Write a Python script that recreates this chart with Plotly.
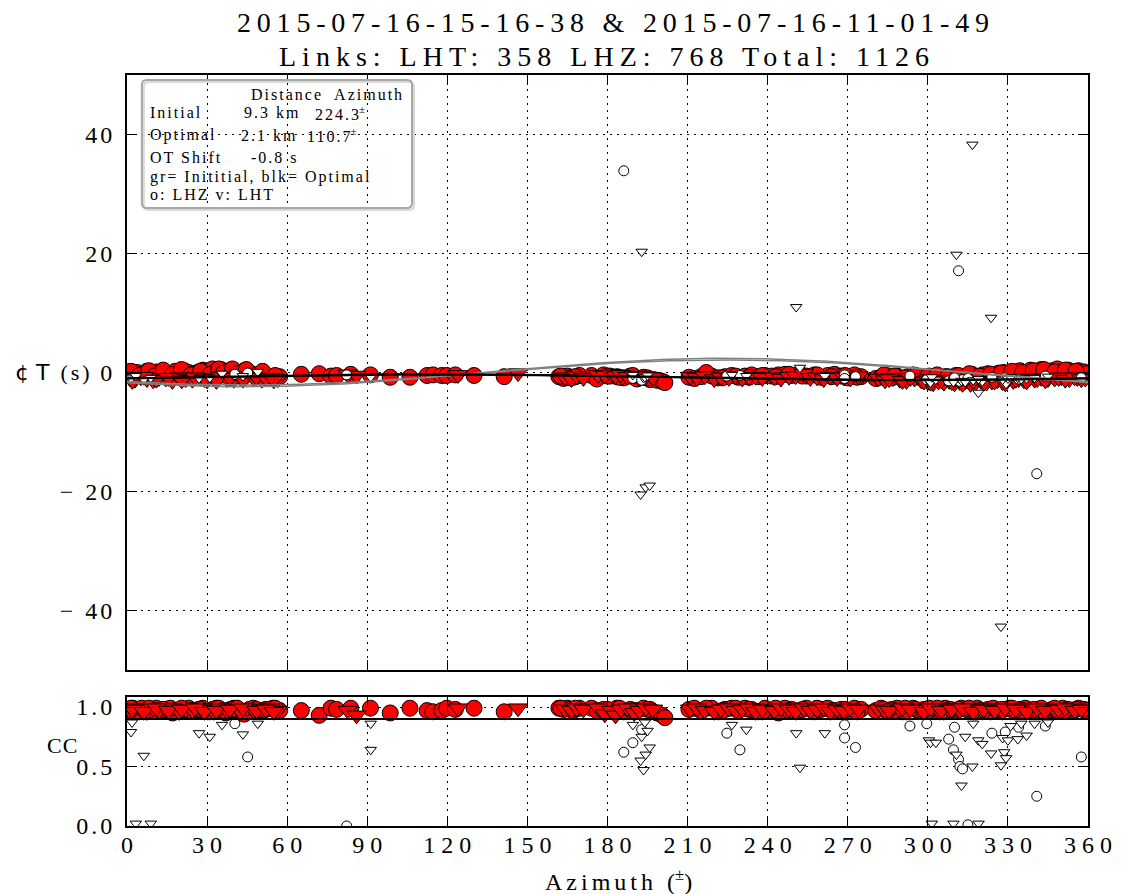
import numpy as np
import plotly.graph_objects as go

# ---- event pair / link summary -------------------------------------------
event_a = "2015-07-16-15-16-38"
event_b = "2015-07-16-11-01-49"
n_lht, n_lhz = 358, 768

# ---- relocation solutions ---------------------------------------------------
init_dist_km, init_az = 9.3, 224.3
opt_dist_km, opt_az = 2.1, 110.7
ot_shift_s = -0.8
vel_lhz, vel_lht = 3.9, 4.4          # km/s, phase velocities for predicted delays
cc_threshold = 0.9

# ---- LHZ links above threshold (circles) -----------------------------------
lhz_good_az = [0.5, 2.2, 3.8, 5.5, 7.4, 9.1, 11.0, 12.8, 14.3, 16.2, 18.0, 19.6, 21.5, 23.1, 25.0, 26.8,
               28.4, 30.3, 32.0, 33.5, 35.2, 37.0, 38.8, 40.1, 42.0, 43.9, 45.8, 47.3, 49.5, 52.0, 54.6, 57.2,
               65.3, 72.0, 76.4, 78.5, 83.8, 91.2, 98.6, 106.0, 112.4, 114.6, 117.9, 119.8, 123.0, 130.0, 141.3,
               161.8, 163.5, 165.0, 167.2, 169.5, 174.0, 178.5, 181.0, 183.5, 186.0, 188.5, 191.0, 193.5, 196.0,
               198.5, 200.5, 201.5,
               210.5, 212.5, 215.0, 219.0, 221.5, 224.0, 226.5, 229.0, 231.5, 234.0, 236.5, 239.0, 241.5, 244.0,
               246.5, 249.0, 252.0, 254.5, 257.5, 260.0, 262.5, 265.0, 267.5, 270.0, 272.5, 275.0,
               280.5, 282.5, 284.5, 286.5, 288.5, 290.5, 292.5, 294.5, 296.5, 298.5, 300.5, 302.5, 304.5, 306.5,
               308.5, 310.5, 312.5, 314.5, 316.5, 318.5, 320.5, 322.5, 324.5, 326.5, 328.5, 330.5, 332.5, 334.5,
               336.5, 338.5, 340.5, 342.5, 344.5, 346.5, 348.5, 350.5, 352.5, 354.5, 356.5, 358.5, 359.5,
               1.5, 4.6, 8.2, 10.3, 13.6, 17.1, 20.4, 24.0, 27.6, 31.2, 34.4, 36.1, 39.5, 41.3, 44.7, 48.4,
               50.8, 55.5,
               283.5, 287.5, 291.5, 295.5, 299.5, 303.5, 307.5, 311.5, 315.5, 319.5, 323.5, 327.5, 331.5,
               335.5, 339.5, 343.5, 347.5, 351.5, 355.5,
               217.0, 223.0, 228.0, 233.0, 238.0, 243.0, 248.0, 253.0, 258.5, 264.0, 269.0, 273.5,
               162.5, 166.0, 168.0, 176.0, 180.0, 184.5, 189.5, 195.0]
lhz_good_dt = [0.1, -0.2, 0.0, -0.3, 0.2, -0.1, 0.1, -0.4, 0.0, -0.2, 0.2, -0.1, 0.3, 0.0, -0.2, 0.1,
               0.4, 0.2, 0.6, 0.3, 0.5, 0.1, 0.4, 0.2, -0.1, 0.3, 0.0, -0.3, -0.6, -0.8, -0.9, -0.7,
               -0.3, -0.2, -0.6, -0.5, -0.3, -0.4, -0.8, -0.8, -0.5, -0.4, -0.5, -0.5, -0.4, -0.5, -0.7,
               -0.7, -1.0, -0.6, -0.8, -0.5, -0.5, -0.4, -0.6, -0.7, -0.9, -0.6, -1.1, -0.8, -1.2,
               -1.3, -1.5, -1.7,
               -0.8, -1.0, -0.7, -0.6, -0.9, -0.7, -0.5, -0.8, -0.6, -0.4, -0.7, -0.5, -0.6, -0.4,
               -0.3, -0.5, -0.2, -0.6, -0.4, -0.8, -0.5, -0.3, -0.6, -0.9, -0.4, -0.7, -1.0,
               -0.8, -0.5, -0.9, -0.6, -1.0, -0.7, -0.4, -0.8, -1.1, -0.6, -0.9, -1.2, -0.7, -1.0,
               -0.5, -0.8, -0.6, -0.3, -0.9, -0.4, -0.2, -0.6, -0.1, 0.0, -0.4, 0.1, 0.3, 0.0,
               0.4, 0.2, 0.5, 0.1, 0.3, 0.6, 0.2, 0.4, 0.0, 0.3, 0.1, -0.2, 0.2,
               -0.5, 0.3, -0.6, 0.4, -0.3, 0.5, -0.4, 0.2, -0.3, 0.6, -0.1, 0.6, -0.2, 0.5, -0.4, 0.2,
               -0.5, -0.4,
               -0.6, -0.9, -0.5, -0.8, -0.4, -0.7, -0.5, -0.2, -0.6, -0.3, -0.1, 0.2, 0.0,
               0.3, 0.5, 0.1, 0.4, 0.2, 0.0,
               -0.9, -0.6, -0.8, -0.5, -0.7, -0.3, -0.6, -0.4, -0.7, -0.5, -0.8, -0.6,
               -0.9, -0.7, -1.1, -0.6, -0.8, -0.5, -0.9, -1.1]
lhz_good_cc = [0.98, 0.99, 0.97, 0.99, 0.96, 0.98, 0.99, 0.97, 0.98, 0.99, 0.97, 0.96, 0.98, 0.99, 0.97, 0.98,
               0.99, 0.96, 0.98, 0.99, 0.97, 0.95, 0.98, 0.99, 0.97, 0.94, 0.98, 0.99, 0.97, 0.98, 0.99, 0.97,
               0.97, 0.93, 0.99, 0.98, 0.99, 0.99, 0.95, 0.99, 0.97, 0.96, 0.97, 0.99, 0.98, 0.99, 0.96,
               0.99, 0.98, 0.99, 0.97, 0.99, 0.99, 0.98, 0.97, 0.99, 0.96, 0.98, 0.97, 0.99, 0.98,
               0.95, 0.93, 0.91,
               0.98, 0.99, 0.97, 0.99, 0.96, 0.98, 0.99, 0.97, 0.99, 0.98, 0.96, 0.99, 0.97, 0.95,
               0.99, 0.98, 0.97, 0.99, 0.96, 0.98, 0.99, 0.97, 0.98, 0.96, 0.99, 0.98, 0.97,
               0.99, 0.97, 0.98, 0.99, 0.96, 0.98, 0.99, 0.97, 0.98, 0.99, 0.97, 0.96, 0.99, 0.98,
               0.97, 0.99, 0.98, 0.97, 0.99, 0.96, 0.98, 0.99, 0.97, 0.98, 0.99, 0.96, 0.98, 0.99,
               0.97, 0.98, 0.99, 0.96, 0.98, 0.97, 0.99, 0.98, 0.97, 0.99, 0.98, 0.97, 0.99,
               0.96, 0.99, 0.97, 0.98, 0.95, 0.99, 0.97, 0.98, 0.96, 0.99, 0.97, 0.98, 0.99, 0.96, 0.98, 0.97,
               0.99, 0.98,
               0.97, 0.99, 0.98, 0.96, 0.99, 0.97, 0.98, 0.99, 0.97, 0.96, 0.98, 0.99, 0.97,
               0.98, 0.96, 0.99, 0.97, 0.98, 0.99,
               0.97, 0.99, 0.98, 0.96, 0.99, 0.97, 0.98, 0.99, 0.97, 0.98, 0.96, 0.99,
               0.98, 0.99, 0.97, 0.98, 0.99, 0.97, 0.98, 0.96]

# ---- LHT links above threshold (down triangles) ----------------------------
lht_good_az = [1.0, 3.0, 5.2, 7.5, 9.8, 12.0, 14.5, 17.0, 19.5, 22.0, 24.5, 27.5, 30.0, 32.5, 35.0, 37.5,
               40.0, 42.5, 45.0, 47.5, 50.5, 53.5, 56.5,
               82.7, 86.0, 124.0, 146.5,
               164.0, 166.5, 168.5, 171.0, 176.5, 179.0, 181.5, 183.0, 185.0, 187.5, 190.0, 192.0, 194.5, 197.0,
               211.0, 213.5, 216.5, 220.0, 222.5, 225.5, 228.0, 230.5, 233.0, 235.5, 238.0, 242.5, 245.0, 248.0,
               250.5, 253.5, 256.0, 258.5, 261.0, 263.5, 266.0, 268.5, 271.0, 274.0,
               281.5, 284.0, 287.0, 289.5, 292.0, 295.0, 297.5, 300.0, 302.0, 304.0, 306.0, 308.0, 310.0, 312.0,
               314.0, 316.0, 318.0, 320.0, 322.0, 324.0, 326.0, 328.0, 330.0, 332.0, 334.0, 336.0, 338.0, 340.0,
               342.5, 345.0, 347.5, 350.0, 353.0, 356.0, 359.0,
               2.0, 6.3, 11.0, 15.5, 20.5, 25.5, 29.0, 33.5, 38.5, 43.5, 48.5, 52.0, 55.0,
               285.5, 290.5, 293.5, 298.5, 301.0, 305.0, 309.0, 313.0, 317.0, 321.0, 325.0, 329.0, 333.0,
               337.0, 341.0, 344.0, 349.0, 351.5, 355.0, 357.5]
lht_good_dt = [-0.9, -1.2, -0.8, -1.1, -1.3, -0.9, -1.0, -1.4, -0.8, -1.1, -1.2, -0.9, -1.3, -1.0, -0.7, -1.1,
               -1.2, -0.9, -0.6, -1.0, -1.2, -0.9, -1.1,
               -0.3, -0.5, -0.4, -0.1,
               -0.8, -1.1, -0.6, -0.9, -0.4, -0.5, -0.3, -0.6, -0.4, -0.7, -0.5, -0.9, -0.6, -0.8,
               -0.7, -0.9, -0.6, -1.1, -0.8, -0.9, -0.6, -1.0, -0.8, -0.7, -0.9, -0.8, -1.0, -0.7,
               -0.6, -0.2, -0.9, -0.8, -1.1, -0.7, -0.9, -0.8, -1.0, -0.6,
               -1.0, -1.3, -0.9, -1.2, -1.4, -1.0, -1.3, -1.6, -1.8, -1.5, -1.7, -1.4, -1.8, -1.6,
               -1.5, -1.9, -1.6, -1.4, -1.7, -1.5, -1.3, -1.6, -1.2, -1.4, -1.1, -1.3, -1.0, -1.2,
               -0.9, -1.1, -1.0, -0.8, -1.1, -0.9, -1.0,
               -1.4, -0.7, -1.2, -0.9, -1.3, -0.8, -1.1, -1.4, -0.9, -1.2, -0.8, -1.0, -1.3,
               -1.1, -1.4, -0.9, -1.5, -1.7, -1.3, -1.6, -1.9, -1.4, -1.7, -1.5, -1.8, -1.2,
               -1.5, -1.1, -1.3, -0.9, -1.2, -0.8, -1.1]
lht_good_cc = [0.97, 0.99, 0.98, 0.96, 0.99, 0.97, 0.98, 0.99, 0.96, 0.98, 0.97, 0.99, 0.98, 0.96, 0.99, 0.97,
               0.98, 0.96, 0.99, 0.97, 0.98, 0.99, 0.97,
               0.97, 0.93, 0.99, 0.99,
               0.98, 0.97, 0.99, 0.98, 0.99, 0.94, 0.97, 0.93, 0.98, 0.99, 0.95, 0.97, 0.99, 0.98,
               0.98, 0.99, 0.97, 0.96, 0.98, 0.99, 0.97, 0.98, 0.99, 0.96, 0.98, 0.97, 0.99, 0.98,
               0.96, 0.99, 0.97, 0.98, 0.99, 0.96, 0.98, 0.97, 0.99, 0.98,
               0.98, 0.97, 0.99, 0.98, 0.96, 0.99, 0.97, 0.98, 0.99, 0.97, 0.96, 0.98, 0.99, 0.97,
               0.98, 0.99, 0.96, 0.98, 0.97, 0.99, 0.98, 0.96, 0.99, 0.97, 0.98, 0.99, 0.97, 0.98,
               0.96, 0.99, 0.98, 0.97, 0.99, 0.98, 0.97,
               0.98, 0.96, 0.99, 0.97, 0.98, 0.99, 0.96, 0.97, 0.98, 0.99, 0.97, 0.98, 0.96,
               0.97, 0.99, 0.98, 0.96, 0.99, 0.97, 0.98, 0.99, 0.96, 0.98, 0.97, 0.99, 0.98,
               0.96, 0.99, 0.97, 0.98, 0.99, 0.97, 0.98]

# ---- LHZ links below threshold (open circles) ------------------------------
lhz_bad_az = [40.4, 45.2, 82.3, 186.1, 189.5, 192.8, 224.7, 229.6, 268.8, 268.8, 272.9, 293.3, 299.6,
              307.8, 309.6, 311.5, 312.0, 313.0, 310.0, 315.0, 324.0, 329.0, 334.0, 340.8, 344.0, 357.5]
lhz_bad_dt = [-0.3, -0.1, -0.4, 33.9, -1.0, -1.3, -0.6, -0.5, -0.4, -1.0, -0.7, -0.6, -1.2,
              -1.4, -1.0, 17.1, -1.5, -1.2, -0.9, -1.0, -0.8, -0.9, -1.1, -17.0, -0.6, -0.9]
lhz_bad_cc = [0.86, 0.58, 0.0, 0.62, 0.70, 0.81, 0.78, 0.64, 0.85, 0.74, 0.66, 0.84, 0.86,
              0.73, 0.64, 0.56, 0.50, 0.48, 0.83, 0.01, 0.78, 0.79, 0.83, 0.25, 0.84, 0.58]

# ---- LHT links below threshold (open down triangles) -----------------------
lht_bad_az = [1.9, 1.5, 6.3, 3.3, 8.9, 27.0, 31.0, 35.6, 43.4, 49.0, 91.3, 91.3,
              189.5, 192.4, 194.3, 195.8, 192.8, 193.5, 194.0, 195.0, 226.6, 232.0,
              250.7, 252.1, 261.4, 300.4, 301.0, 303.0, 310.7, 312.6, 314.0, 316.7, 317.0, 318.9,
              320.4, 323.7, 327.4, 328.6, 329.3, 328.0, 330.0, 333.7, 337.0, 331.0, 335.0, 340.0, 345.0,
              301.5, 309.6, 319.0]
lht_bad_dt = [-0.8, -1.0, -1.2, -0.6, -0.9, -1.0, -0.9, -0.2, -0.6, 0.1, -0.6, -0.8,
              -0.4, -20.5, -19.3, -19.0, 20.3, -0.9, -0.8, -0.5, -0.4, -0.6,
              11.0, 0.8, -0.6, -1.5, -1.7, -1.2, 19.8, -1.4, -1.6, 38.3, -1.3, -3.4,
              -1.5, 9.2, -42.7, -1.4, -1.9, -1.2, -1.0, -0.9, -1.0, -0.8, -1.1, -0.9, -0.7,
              -0.8, -1.6, -1.1]
lht_bad_cc = [0.87, 0.79, 0.59, 0.02, 0.02, 0.78, 0.75, 0.85, 0.77, 0.86, 0.86, 0.64,
              0.85, 0.55, 0.60, 0.66, 0.75, 0.47, 0.87, 0.80, 0.85, 0.81,
              0.78, 0.49, 0.78, 0.72, 0.70, 0.70, 0.60, 0.34, 0.75, 0.50, 0.86, 0.72,
              0.69, 0.61, 0.51, 0.62, 0.57, 0.74, 0.72, 0.73, 0.76, 0.84, 0.86, 0.86, 0.87,
              0.02, 0.02, 0.02]

# ---- axis ticks ---------------------------------------------------------------
az_ticks = list(range(0, 361, 30))
dt_ticks = [-40, -20, 0, 20, 40]
dt_tick_text = ["\u2212 40", "\u2212 20", "0", "20", "40"]
cc_ticks = [0.0, 0.5, 1.0]
cc_tick_text = ["0.0", "0.5", "1.0"]

SERIF = "Liberation Serif"
W, H = 1124, 894
ML, MR, MT, MB = 127, 26, 75, 68
PW, PH = W - ML - MR, H - MT - MB


def px_x(px):
    return (px - ML) / PW


def px_y(py):
    return (H - MB - py) / PH


def spaced(text, gap):
    """Letter-spaced text; the last glyph carries no trailing gap."""
    if len(text) < 2:
        return text
    return f'<span style="letter-spacing:{gap}px">{text[:-1]}</span>{text[-1]}'


# predicted delay curves
az_grid = np.linspace(0, 360, 361)
init_lhz = init_dist_km / vel_lhz * np.cos(np.radians(az_grid - init_az))
init_lht = init_dist_km / vel_lht * np.cos(np.radians(az_grid - init_az))
opt_lhz = opt_dist_km / vel_lhz * np.cos(np.radians(az_grid - opt_az)) + ot_shift_s
opt_lht = opt_dist_km / vel_lht * np.cos(np.radians(az_grid - opt_az)) + ot_shift_s

fig = go.Figure()

red_circle = dict(symbol="circle", size=16, color="#ff0000", line=dict(color="black", width=1))
red_tri = dict(symbol="triangle-down", size=17, color="#ff0000", line=dict(color="black", width=1))
open_circle = dict(symbol="circle", size=10, color="white", line=dict(color="black", width=1))
open_tri = dict(symbol="triangle-down", size=10, color="white", line=dict(color="black", width=1))

for ya, key in (("y", "dt"), ("y2", "cc")):
    xa = "x" if ya == "y" else "x2"
    fig.add_trace(go.Scatter(x=lhz_good_az, y=lhz_good_dt if key == "dt" else lhz_good_cc,
                             mode="markers", marker=red_circle, xaxis=xa, yaxis=ya))
    fig.add_trace(go.Scatter(x=lht_good_az, y=lht_good_dt if key == "dt" else lht_good_cc,
                             mode="markers", marker=red_tri, xaxis=xa, yaxis=ya))
    fig.add_trace(go.Scatter(x=lhz_bad_az, y=lhz_bad_dt if key == "dt" else lhz_bad_cc,
                             mode="markers", marker=open_circle, xaxis=xa, yaxis=ya))
    fig.add_trace(go.Scatter(x=lht_bad_az, y=lht_bad_dt if key == "dt" else lht_bad_cc,
                             mode="markers", marker=open_tri, xaxis=xa, yaxis=ya))

for curve in (init_lhz, init_lht):
    fig.add_trace(go.Scatter(x=az_grid, y=curve, mode="lines",
                             line=dict(color="#808080", width=1.5), xaxis="x", yaxis="y"))
for curve in (opt_lhz, opt_lht):
    fig.add_trace(go.Scatter(x=az_grid, y=curve, mode="lines",
                             line=dict(color="black", width=2), xaxis="x", yaxis="y"))

# cc acceptance threshold
fig.add_trace(go.Scatter(x=[0, 360], y=[cc_threshold, cc_threshold], mode="lines",
                         line=dict(color="black", width=2), xaxis="x2", yaxis="y2"))

axis_common = dict(
    showline=True, linecolor="black", linewidth=2, mirror="ticks",
    ticks="inside", ticklen=10, tickwidth=1, tickcolor="black",
    showgrid=True, gridcolor="black", gridwidth=1, griddash="2px,5px",
    zeroline=False, tickfont=dict(family=SERIF, size=24, color="black"),
)

fig.update_layout(
    width=W, height=H, margin=dict(l=ML, r=MR, t=MT, b=MB),
    paper_bgcolor="white", plot_bgcolor="white", showlegend=False,
    xaxis=dict(axis_common, domain=[0, 1], range=[0, 360], tickvals=az_ticks,
               showticklabels=False, anchor="y"),
    yaxis=dict(axis_common, domain=[px_y(670), 1], range=[-50, 50], tickvals=dt_ticks,
               ticktext=[spaced(t, 3) for t in dt_tick_text], ticklabelstandoff=8, anchor="x"),
    xaxis2=dict(axis_common, domain=[0, 1], range=[0, 360], tickvals=az_ticks,
                ticktext=[spaced(str(t), 6) for t in az_ticks], ticklabelstandoff=-4, anchor="y2"),
    yaxis2=dict(axis_common, domain=[0, px_y(697)], range=[0, 1.084], tickvals=cc_ticks,
                ticktext=[spaced(t, 3) for t in cc_tick_text], ticklabelstandoff=8, anchor="x2"),
)

ann = []


def label(text, px, py, size, xanchor="left", gap=0, family=SERIF):
    ann.append(dict(text=spaced(text, gap) if gap else text, x=px_x(px), y=px_y(py),
                    xref="paper", yref="paper", xanchor=xanchor, yanchor="middle",
                    showarrow=False, font=dict(family=family, size=size, color="black")))


# title
label(f"{event_a} & {event_b}", 618, 22, 28, xanchor="center", gap=5.8)
label(f"Links: LHT: {n_lht} LHZ: {n_lhz} Total: {n_lht + n_lhz}", 609, 57, 28, xanchor="center", gap=6)

# axis titles
ann.append(dict(text='<span style="font-family:DejaVu Sans">\u00a2\u00a0T</span>\u00a0\u00a0'
                     '<span style="letter-spacing:3px">(s</span>)',
                x=px_x(52), y=px_y(372), xref="paper", yref="paper", xanchor="center",
                yanchor="middle", showarrow=False, font=dict(family=SERIF, size=22, color="black")))
label("CC", 61, 745, 22, xanchor="center", gap=1)
ann.append(dict(text=spaced("Azimuth (", 4) + "<sup>\u00b1</sup>)", x=px_x(624), y=px_y(880),
                xref="paper", yref="paper", xanchor="center", yanchor="middle", showarrow=False,
                font=dict(family=SERIF, size=24, color="black")))

# location summary box
LF = 16
G = 2
label("Distance  Azimuth", 250, 95, LF, gap=G)
label("Initial", 148, 113, LF, gap=G)
label(f"{init_dist_km} km", 243, 113, LF, gap=G)
ann.append(dict(text=spaced(f"{init_az}", G) + "<sup>\u00b1</sup>", x=px_x(315), y=px_y(113),
                xref="paper", yref="paper", xanchor="left", yanchor="middle", showarrow=False,
                font=dict(family=SERIF, size=LF, color="black")))
label("Optimal", 148, 135, LF, gap=G)
label(f"{opt_dist_km} km", 240, 135, LF, gap=G)
ann.append(dict(text=spaced(f"{opt_az}", G) + "<sup>\u00b1</sup>", x=px_x(307), y=px_y(135),
                xref="paper", yref="paper", xanchor="left", yanchor="middle", showarrow=False,
                font=dict(family=SERIF, size=LF, color="black")))
label("OT Shift", 148, 157, LF, gap=G)
label(f"{ot_shift_s} s", 250, 157, LF, gap=G)
label("gr= Inititial, blk= Optimal", 148, 177, LF, gap=G)
label("o: LHZ v: LHT", 148, 195, LF, gap=G)

fig.update_layout(annotations=ann)


def rounded_box(x0, y0, x1, y1, r):
    """SVG path (paper coords) for a rounded rectangle given in pixels."""
    X, Y = px_x, px_y
    pts = [
        f"M{X(x0 + r)},{Y(y0)}",
        f"L{X(x1 - r)},{Y(y0)}",
        f"Q{X(x1)},{Y(y0)} {X(x1)},{Y(y0 + r)}",
        f"L{X(x1)},{Y(y1 - r)}",
        f"Q{X(x1)},{Y(y1)} {X(x1 - r)},{Y(y1)}",
        f"L{X(x0 + r)},{Y(y1)}",
        f"Q{X(x0)},{Y(y1)} {X(x0)},{Y(y1 - r)}",
        f"L{X(x0)},{Y(y0 + r)}",
        f"Q{X(x0)},{Y(y0)} {X(x0 + r)},{Y(y0)}Z",
    ]
    return " ".join(pts)


fig.update_layout(shapes=[
    dict(type="path", path=rounded_box(144, 82, 417, 210, 5), xref="paper", yref="paper",
         line=dict(color="#d8d8d8", width=2), fillcolor="rgba(0,0,0,0)"),
    dict(type="path", path=rounded_box(142, 80, 415, 208, 5), xref="paper", yref="paper",
         line=dict(color="#a8a8a8", width=2), fillcolor="rgba(0,0,0,0)"),
])

fig.write_html("out.html")
